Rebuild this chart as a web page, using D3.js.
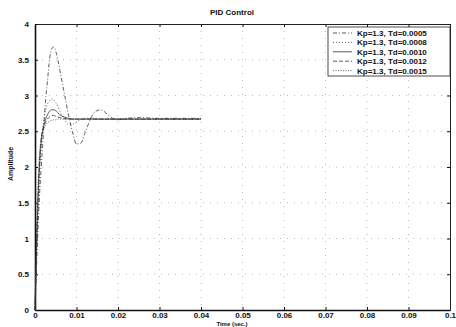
<!DOCTYPE html>
<html><head><meta charset="utf-8">
<script src="https://cdn.jsdelivr.net/npm/d3@7"></script>
<style>body{margin:0;background:#fff}svg{display:block}text{font-family:"Liberation Sans",Arial,sans-serif;font-weight:bold;fill:#111}</style>
</head><body>
<script>
const title = "PID Control";
const xLabel = "Time (sec.)";
const yLabel = "Amplitude";
const xTicks = [0, 0.01, 0.02, 0.03, 0.04, 0.05, 0.06, 0.07, 0.08, 0.09, 0.1];
const xTickLabels = ["0", "0.01", "0.02", "0.03", "0.04", "0.05", "0.06", "0.07", "0.08", "0.09", "0.1"];
const yTicks = [0, 0.5, 1, 1.5, 2, 2.5, 3, 3.5, 4];
const yTickLabels = ["0", "0.5", "1", "1.5", "2", "2.5", "3", "3.5", "4"];
const seriesNames = ["Kp=1.3, Td=0.0005", "Kp=1.3, Td=0.0008", "Kp=1.3, Td=0.0010", "Kp=1.3, Td=0.0012", "Kp=1.3, Td=0.0015"];
const time = [0, 0.0005, 0.001, 0.0015, 0.002, 0.0025, 0.003, 0.0035, 0.004, 0.0045, 0.005, 0.0055, 0.006, 0.007, 0.008, 0.009, 0.010, 0.011, 0.012, 0.013, 0.014, 0.015, 0.016, 0.017, 0.018, 0.019, 0.020, 0.022, 0.025, 0.030, 0.035, 0.040];
const td0005 = [0, 0.8, 1.5, 2.0, 2.45, 2.9, 3.2, 3.5, 3.65, 3.68, 3.62, 3.5, 3.35, 3.05, 2.75, 2.5, 2.32, 2.33, 2.47, 2.62, 2.74, 2.79, 2.8, 2.76, 2.71, 2.67, 2.66, 2.68, 2.69, 2.68, 2.68, 2.68];
const td0008 = [0, 1.0, 1.8, 2.3, 2.6, 2.78, 2.88, 2.93, 2.95, 2.94, 2.9, 2.85, 2.78, 2.68, 2.6, 2.6, 2.63, 2.66, 2.68, 2.68, 2.68, 2.67, 2.67, 2.67, 2.67, 2.67, 2.67, 2.67, 2.67, 2.67, 2.67, 2.67];
const td0010 = [0, 1.1, 1.9, 2.35, 2.55, 2.66, 2.73, 2.78, 2.8, 2.8, 2.79, 2.76, 2.73, 2.7, 2.68, 2.67, 2.67, 2.67, 2.67, 2.67, 2.67, 2.67, 2.67, 2.67, 2.67, 2.67, 2.67, 2.67, 2.67, 2.67, 2.67, 2.67];
const td0012 = [0, 1.2, 2.0, 2.4, 2.55, 2.62, 2.67, 2.7, 2.72, 2.72, 2.71, 2.7, 2.69, 2.68, 2.67, 2.67, 2.67, 2.67, 2.67, 2.67, 2.67, 2.67, 2.67, 2.67, 2.67, 2.67, 2.67, 2.67, 2.67, 2.67, 2.67, 2.67];
const td0015 = [0, 1.3, 2.1, 2.4, 2.52, 2.58, 2.62, 2.64, 2.65, 2.66, 2.66, 2.67, 2.67, 2.67, 2.67, 2.67, 2.67, 2.67, 2.67, 2.67, 2.67, 2.67, 2.67, 2.67, 2.67, 2.67, 2.67, 2.67, 2.67, 2.67, 2.67, 2.67];
const allSeries = [td0005, td0008, td0010, td0012, td0015];
const dashes = ["4,2,1,2", "1,2", "none", "4,2", "1,1.5"];

const W = 456, H = 327;
const m = {l: 35, r: 450, t: 24, b: 310};
const svg = d3.select("body").append("svg").attr("width", W).attr("height", H);
const x = d3.scaleLinear().domain([0, 0.1]).range([m.l, m.r]);
const y = d3.scaleLinear().domain([0, 4]).range([m.b, m.t]);

// grid
const g = svg.append("g").attr("stroke", "#aaa").attr("stroke-width", 0.8).attr("stroke-dasharray", "1,6");
xTicks.slice(1, -1).forEach(v => g.append("line").attr("x1", x(v)).attr("x2", x(v)).attr("y1", m.t).attr("y2", m.b));
yTicks.slice(1, -1).forEach(v => g.append("line").attr("y1", y(v)).attr("y2", y(v)).attr("x1", m.l).attr("x2", m.r));

// axes (inward ticks)
const ax = svg.append("g").attr("transform", `translate(0,${m.b})`)
  .call(d3.axisBottom(x).tickValues(xTicks).tickFormat((d, i) => xTickLabels[i]).tickSizeInner(-3).tickSizeOuter(0).tickPadding(2));
const axT = svg.append("g").attr("transform", `translate(0,${m.t})`)
  .call(d3.axisTop(x).tickValues(xTicks).tickFormat("").tickSizeInner(-3).tickSizeOuter(0));
const ay = svg.append("g").attr("transform", `translate(${m.l},0)`)
  .call(d3.axisLeft(y).tickValues(yTicks).tickFormat((d, i) => yTickLabels[i]).tickSizeInner(-3).tickSizeOuter(0).tickPadding(6));
const ayR = svg.append("g").attr("transform", `translate(${m.r},0)`)
  .call(d3.axisRight(y).tickValues(yTicks).tickFormat("").tickSizeInner(-3).tickSizeOuter(0));
[ax, axT, ay, ayR].forEach(a => { a.selectAll("text").style("font-size", "8px").style("font-family", "Liberation Sans, Arial, sans-serif").style("font-weight", "bold").attr("fill", "#111"); a.selectAll("line").attr("stroke", "#111"); });
ax.select(".domain").attr("stroke", "#111").attr("stroke-width", 1.6);
ay.select(".domain").attr("stroke", "#111").attr("stroke-width", 1.6);
axT.select(".domain").attr("stroke", "#222").attr("stroke-width", 1);
ayR.select(".domain").attr("stroke", "#222").attr("stroke-width", 1);

// curves
const line = d3.line().x((d, i) => x(time[i])).y(d => y(d)).curve(d3.curveMonotoneX);
allSeries.forEach((s, k) => {
  svg.append("path").datum(s).attr("d", line).attr("fill", "none")
    .attr("stroke", "#333").attr("stroke-width", 0.8).attr("stroke-dasharray", dashes[k]);
});

// labels
svg.append("text").attr("x", 232).attr("y", 15).attr("text-anchor", "middle").style("font-size", "8px").text(title);
svg.append("text").attr("x", 232).attr("y", 325.5).attr("text-anchor", "middle").style("font-size", "6px").text(xLabel);
svg.append("text").attr("transform", "translate(13,164) rotate(-90)").attr("text-anchor", "middle").style("font-size", "7px").text(yLabel);

// legend
const lg = svg.append("g");
lg.append("rect").attr("x", 328).attr("y", 27).attr("width", 122).attr("height", 49).attr("fill", "#fff").attr("stroke", "#222").attr("stroke-width", 0.8);
seriesNames.forEach((n, k) => {
  const yy = 33 + k * 9.4;
  lg.append("line").attr("x1", 333).attr("x2", 352).attr("y1", yy).attr("y2", yy).attr("stroke", "#333").attr("stroke-width", 0.8).attr("stroke-dasharray", dashes[k]);
  lg.append("text").attr("x", 357).attr("y", yy + 3).style("font-size", "8px").text(n);
});
</script>
</body></html>
